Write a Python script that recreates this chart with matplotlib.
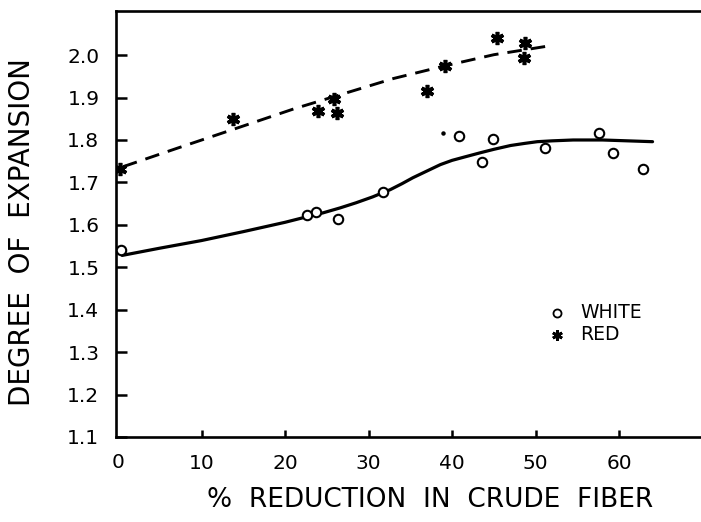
import matplotlib
matplotlib.use("Agg")
import matplotlib.pyplot as plt

# ---- data ----
white_x = [0.3, 22.6, 23.7, 26.3, 31.7, 40.8, 43.6, 44.9, 51.1, 57.6, 59.3, 62.9]
white_y = [1.540, 1.624, 1.631, 1.614, 1.678, 1.810, 1.749, 1.803, 1.782, 1.817, 1.770, 1.732]

red_x = [0.2, 13.8, 24.0, 25.9, 26.2, 37.0, 39.2, 45.4, 48.7, 48.6]
red_y = [1.732, 1.850, 1.869, 1.897, 1.864, 1.916, 1.975, 2.041, 2.029, 1.994]

# fitted curves as traced on the picture
white_fit_x = [0.5, 5, 10, 15, 20, 22.2, 24.5, 26.6, 28.5, 30.5, 32.6, 34, 35.3, 37, 38.6,
               40, 41.5, 43.4, 45, 47, 48.7, 50.2, 52, 54.5, 58, 61, 64]
white_fit_y = [1.528, 1.545, 1.563, 1.584, 1.606, 1.617, 1.628, 1.640, 1.652, 1.666, 1.683,
               1.697, 1.711, 1.727, 1.742, 1.752, 1.760, 1.770, 1.778, 1.787, 1.792, 1.796,
               1.798, 1.800, 1.800, 1.798, 1.796]

red_fit_x = [0.6, 7, 15, 21, 27.5, 33, 39.2, 45, 51.7]
red_fit_y = [1.737, 1.780, 1.833, 1.873, 1.912, 1.945, 1.975, 2.001, 2.022]

stray_x = [38.9]
stray_y = [1.817]

xticks = [10, 20, 30, 40, 50, 60]
xtick_labels = ["10", "20", "30", "40", "50", "60"]
yticks = [1.1, 1.2, 1.3, 1.4, 1.5, 1.6, 1.7, 1.8, 1.9, 2.0]
ytick_labels = ["1.1", "1.2", "1.3", "1.4", "1.5", "1.6", "1.7", "1.8", "1.9", "2.0"]

plt.rcParams['font.family'] = ['DejaVu Sans']
plt.rcParams['lines.scale_dashes'] = False

W, H = 701, 522
fig = plt.figure(figsize=(W / 100, H / 100), dpi=100)
fig.patch.set_facecolor('white')
ax = fig.add_axes([116 / W, (H - 437) / H, (W - 116) / W, (437 - 11) / H])

ax.set_xlim(-0.24, 69.8)
ax.set_ylim(1.1, 2.104)

ax.plot(white_fit_x, white_fit_y, color='black', lw=2.3, solid_capstyle='round',
        solid_joinstyle='round', zorder=2)
ax.plot(red_fit_x, red_fit_y, color='black', lw=2.1, dashes=(10.5, 6.5), zorder=2)

ax.plot(white_x, white_y, linestyle='none', marker='o', markersize=6.8,
        markerfacecolor='white', markeredgecolor='black', markeredgewidth=1.5, zorder=3)
ax.plot(red_x, red_y, linestyle='none', marker=(6, 2, 0), markersize=9.5,
        markeredgecolor='black', markeredgewidth=2.6, zorder=3)
ax.plot(stray_x, stray_y, linestyle='none', marker='o', markersize=2.2,
        color='black', zorder=3)

# legend as drawn on the figure
ax.plot([52.6], [1.393], linestyle='none', marker='o', markersize=5.8,
        markerfacecolor='white', markeredgecolor='black', markeredgewidth=1.3)
ax.plot([52.6], [1.341], linestyle='none', marker=(6, 2, 0), markersize=7.5,
        markeredgecolor='black', markeredgewidth=2.0)
ax.text(55.3, 1.393, "WHITE", fontsize=13.5, va='center', ha='left')
ax.text(55.3, 1.341, "RED", fontsize=13.5, va='center', ha='left')

for s in ['top', 'left', 'bottom']:
    ax.spines[s].set_linewidth(1.9)
ax.spines['right'].set_visible(False)

ax.set_xticks(xticks)
ax.set_xticklabels(xtick_labels)
ax.set_yticks(yticks)
ax.set_yticklabels(ytick_labels)
ax.tick_params(axis='x', direction='in', length=5, width=1.8, pad=12, labelsize=14.5)
ax.tick_params(axis='y', direction='in', length=8, width=1.8, pad=12, labelsize=14.5)

fig.text(118 / W, 1 - 463 / H, "0", fontsize=14.5, ha='center', va='center')

fig.text(22 / W, 1 - 232 / H, "DEGREE  OF  EXPANSION", fontsize=20, rotation=90,
         ha='center', va='center')
fig.text(430 / W, 1 - 500 / H, "%  REDUCTION  IN  CRUDE  FIBER", fontsize=19,
         ha='center', va='center')

fig.savefig("out.png", dpi=100, facecolor='white')
